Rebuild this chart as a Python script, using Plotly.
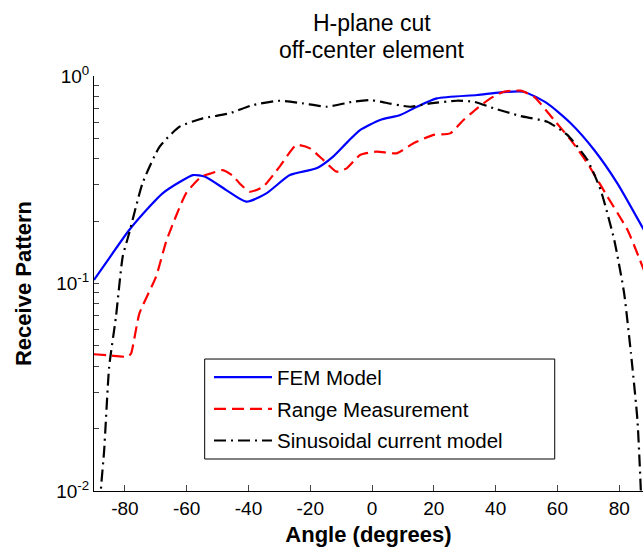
import plotly.graph_objects as go

# Angle (degrees) and receive pattern samples for each model
fem_angle = [-90, -85, -78.6, -72, -67.8, -62, -58, -54, -47.2, -40.7, -34.2, -26.6,
             -18, -12.6, -8, -3.9, 2.6, 9.1, 14.5, 21, 34, 41.6, 49, 56.7, 64.3,
             71.9, 79.4, 88]
fem_value = [0.104, 0.133, 0.181, 0.235, 0.272, 0.31, 0.333, 0.327, 0.282, 0.248,
             0.272, 0.333, 0.359, 0.409, 0.48, 0.549, 0.614, 0.649, 0.711, 0.78,
             0.81, 0.834, 0.84, 0.738, 0.592, 0.44, 0.304, 0.181]

meas_angle = [-90, -85, -79, -78, -75.3, -69.9, -66.6, -60.2, -55.3, -52, -48.3, -45,
              -42.9, -39.6, -35.3, -29.9, -24.5, -20.1, -15.8, -11.5, -8.2, -3.9,
              1.5, 8, 13.4, 19.9, 25.3, 29.6, 34, 38.3, 42.6, 48.1, 52.4, 58.9,
              64.3, 69.7, 76.2, 82.7, 88]
meas_value = [0.0456, 0.045, 0.0444, 0.046, 0.0718, 0.108, 0.16, 0.272, 0.327, 0.34,
              0.352, 0.33, 0.304, 0.277, 0.292, 0.366, 0.465, 0.448, 0.394, 0.346,
              0.359, 0.416, 0.432, 0.424, 0.474, 0.52, 0.529, 0.614, 0.699, 0.78,
              0.84, 0.85, 0.795, 0.614, 0.492, 0.38, 0.262, 0.181, 0.116]

sin_angle = [-88.5, -87.8, -86.7, -85.1, -82.9, -80.7, -78.6, -74.3, -68.8, -62.3,
             -54.8, -46.1, -38.5, -29.9, -22.3, -14.7, -6.1, -0.5, 2.6, 12.3, 18.8,
             27.5, 32.9, 39.4, 48.1, 56.7, 63.2, 69.7, 74, 78.4, 81.6, 83.8, 85.9,
             87, 87.5]
sin_value = [0.005, 0.01, 0.0158, 0.0396, 0.069, 0.135, 0.175, 0.304, 0.456, 0.57,
             0.625, 0.661, 0.725, 0.76, 0.738, 0.711, 0.752, 0.765, 0.752, 0.711,
             0.738, 0.76, 0.752, 0.699, 0.641, 0.602, 0.52, 0.394, 0.282, 0.162,
             0.0897, 0.0461, 0.022, 0.01, 0.005]

x_ticks = [-80, -60, -40, -20, 0, 20, 40, 60, 80]
x_tick_labels = ["-80", "-60", "-40", "-20", "0", "20", "40", "60", "80"]
y_decades = [0.01, 0.1, 1]
y_decade_labels = ["10<sup>-2</sup>", "10<sup>-1</sup>", "10<sup>0</sup>"]
title_lines = ["H-plane cut", "off-center element"]

FONT = "Arial, Liberation Sans, Helvetica, sans-serif"

# log-axis ticks: labelled decades plus unlabelled minor ticks 2..9
y_tickvals, y_ticktext = [], []
for i, d in enumerate(y_decades):
    y_tickvals.append(d)
    y_ticktext.append(y_decade_labels[i])
    if d < 1:
        for m in range(2, 10):
            y_tickvals.append(d * m)
            y_ticktext.append("")

fig = go.Figure()
fig.add_trace(go.Scatter(x=fem_angle, y=fem_value, mode="lines", name="FEM Model",
                         legendgroup="fem",
                         line=dict(color="#0000ff", width=2.2, shape="spline", smoothing=0.6)))
fig.add_trace(go.Scatter(x=meas_angle, y=meas_value, mode="lines", name="Range Measurement",
                         legendgroup="meas",
                         line=dict(color="#ff0000", width=2.2, dash="12px,6px",
                                   shape="spline", smoothing=0.5)))
fig.add_trace(go.Scatter(x=sin_angle, y=sin_value, mode="lines", name="Sinusoidal current model",
                         legendgroup="sin",
                         line=dict(color="#000000", width=2.2, dash="12px,5px,2px,5px",
                                   shape="spline", smoothing=0.5)))

# legend frame
fig.add_shape(type="rect", xref="paper", yref="paper",
              x0=0.2016, x1=0.8392, y0=0.0771, y1=0.318,
              line=dict(color="#000000", width=1), fillcolor="rgba(0,0,0,0)")

# two-line title centred over the axes
for text, ypos in zip(title_lines, [1.1277, 1.0627]):
    fig.add_annotation(text=text, xref="paper", yref="paper", x=0.5064, y=ypos,
                       xanchor="center", yanchor="middle", showarrow=False,
                       font=dict(size=23, family=FONT, color="#000000"))

fig.update_layout(
    width=643, height=547,
    margin=dict(l=94, r=0, t=76, b=56),
    paper_bgcolor="white", plot_bgcolor="white",
    font=dict(family=FONT, color="#000000"),
    showlegend=True,
    legend=dict(x=0.2095, y=0.322, xanchor="left", yanchor="top",
                bgcolor="rgba(0,0,0,0)", borderwidth=0, itemwidth=58,
                font=dict(size=20.5, family=FONT), tracegroupgap=2,
                traceorder="grouped"),
    xaxis=dict(range=[-90, 87.7], tickvals=x_ticks, ticktext=x_tick_labels,
               ticks="inside", ticklen=6,
               tickfont=dict(size=19), showline=True, linecolor="#000000", linewidth=1,
               showgrid=False, zeroline=False, mirror=False,
               title=dict(text="<b>Angle (degrees)</b>", font=dict(size=22), standoff=8)),
    yaxis=dict(type="log", range=[-2, 0], tickvals=y_tickvals, ticktext=y_ticktext,
               ticks="inside", ticklen=5, tickfont=dict(size=19), showline=True,
               linecolor="#000000", linewidth=1, showgrid=False, zeroline=False,
               title=dict(text="<b>Receive Pattern</b>", font=dict(size=22), standoff=18)),
)

fig.write_html("out.html")
